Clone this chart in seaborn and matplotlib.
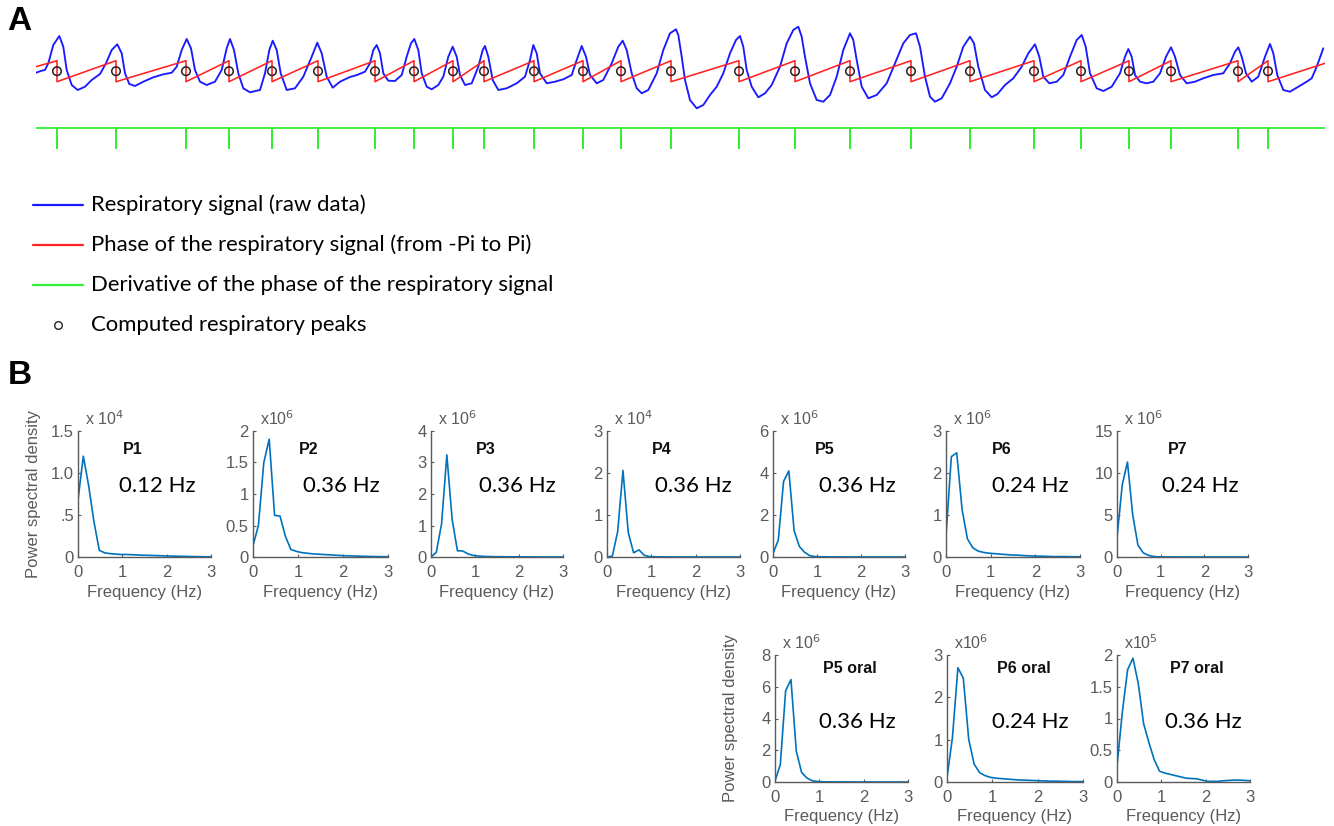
import numpy as np
import pandas as pd
import seaborn as sns
import matplotlib.pyplot as plt
from matplotlib.lines import Line2D

# ---------------- panel A : respiratory trace (arbitrary units) ----------------
resp_t = [36, 41.7, 45, 48.3, 53.3, 59.3, 63.3, 66.7, 71.7, 77.7, 85, 91.7, 100, 106, 111.7,
          117.3, 121.7, 125, 129.3, 135, 143.3, 153.3, 163.3, 171.7, 176.7, 181.7, 186.7, 191,
          195, 200, 206.7, 215, 221.7, 226.7, 230, 234, 238.3, 243.3, 250, 260, 265, 269.3,
          272.7, 276.7, 280.7, 286.7, 295, 303.3, 311.7, 317.3, 321.7, 326.7, 332.7, 340, 350,
          357, 365, 370, 373.3, 376.7, 380, 383.3, 388.3, 395, 401.7, 406.7, 411, 414.3, 418.3,
          421.7, 426.7, 431.7, 438.3, 443.3, 448.3, 452.7, 456.7, 460, 465, 471.7, 478.3, 482.7,
          485, 488.3, 492.7, 498.3, 506.7, 516.7, 525, 530, 533.3, 536.7, 540, 546.7, 555,
          563.3, 571.7, 576.7, 581.7, 586, 590, 596.7, 603.3, 611.7, 618.3, 622.7, 626.7, 631.7,
          636.7, 641.7, 648.3, 656.7, 663.3, 670, 676, 678.3, 681.7, 685, 690, 696.7, 703.3, 710,
          716.7, 723.3, 730, 736, 740, 743.3, 746.7, 751.7, 758.3, 765, 771.7, 780, 786.7, 793.3,
          798.3, 801.7, 805, 810, 816.7, 823.3, 830, 836.7, 843.3, 850, 853.3, 856.7, 861.7,
          868.3, 876.7, 886.7, 895, 903.3, 910, 916, 920, 925, 930, 935, 941.7, 950, 956.7,
          963.3, 970, 974, 978.3, 985, 991.7, 997.5, 1005, 1013.3, 1021.7, 1028.3, 1035, 1039.3,
          1043.3, 1049.3, 1056.7, 1063.3, 1070, 1076.7, 1081.7, 1085.7, 1090, 1096.7, 1103.3,
          1111.7, 1120, 1125, 1128.3, 1131.7, 1135, 1140, 1146.7, 1153.3, 1160, 1166, 1171, 1175,
          1180, 1186.7, 1195, 1203.3, 1213.3, 1223.3, 1230, 1235, 1238.3, 1241.7, 1246, 1251.7,
          1258.3, 1265, 1270, 1273.3, 1277.3, 1283.3, 1290, 1298.3, 1306.7, 1311.7, 1316.7, 1323.3]
resp_amp = [-0.7, 1.3, 2, 8.7, 27, 36, 25.3, 2, -13, -18, -14.7, -8, -2, 8.7, 22,
            27.7, 18.7, -1.3, -12, -14, -9.7, -5.3, -2.3, -0.7, 5.3, 22, 33, 23.7,
            2, -9.7, -13, -9.7, 2, 23.7, 33, 22, -1.3, -16.3, -20.3, -18, -1.3, 22,
            31.3, 22, -1.3, -18, -16.3, -4.7, 15.3, 29.3, 18.7, -4.7, -15.7, -9.7, -5,
            -3, 0.3, 8.7, 22, 27, 18.7, -1.3, -8.7, -9, -3, 15.3, 28.7, 33, 22,
            -1.3, -14.7, -17.3, -13, -4.7, 15.3, 25.3, 15.3, -3, -13, -11.3, 5.3, 22,
            26, 15.3, -8, -18, -16.3, -11.3, -4.7, 12, 27, 18.7, -1.3, -11.3, -9.7,
            -7.3, -3, 12, 26, 15.3, -3, -11.3, -8, 8.7, 25.3, 31.3, 22, -1.3,
            -16.3, -21.3, -18, -1.3, 22, 38.7, 42.7, 37, 15.3, -8, -28, -36.3, -33, -23,
            -14.7, -1.3, 18.7, 32, 36, 25.3, 2, -14.7, -25.3, -21.3, -13, 5.3, 28.7, 42,
            45.3, 35.3, 15.3, -11.3, -28, -29.7, -23, -4.7, 22, 38.7, 32, 12, -14.7,
            -26.3, -23, -11.3, 8.7, 28.7, 37, 38.7, 25.3, -4.7, -24.7, -29.7, -26.3, -11.3, 5.3,
            25.3, 35.3, 28.7, 5.3, -18, -25.3, -22, -13, -6.3, 5.3, 18.7, 27.7, 15.3,
            -4.7, -11.3, -9.7, -3, 15.3, 32, 37, 25.3, -1.3, -16.3, -19,
            -14.7, -1.3, 15.3, 23, 15.3, -3, -9.7, -11.3, -9.7, -1.3, 15.3, 24.7, 15.3,
            -3, -11.3, -9.7, -6.3, -3, -1.3, 8.7, 20.3, 24.7, 15.3, -1.3, -9.7,
            -4.7, 15.3, 28, 18.7, -3, -18, -19.7, -14.7, -9.7, -6.3, 5.3, 23.7]

peak_t = [57, 116, 186, 229, 272, 318, 375, 414, 453, 484, 534, 583, 621, 671, 739, 795,
          850, 911, 970, 1034, 1081, 1129, 1171, 1238, 1268]
t_start, t_end = 36, 1325
phase_start, phase_end = 1.35, 2.36   # phase (rad) at both ends of the trace

legend_labels = ["Respiratory signal (raw data)",
                 "Phase of the respiratory signal (from -Pi to Pi)",
                 "Derivative of the phase of the respiratory signal",
                 "Computed respiratory peaks"]

# ---------------- panel B : power spectra ----------------
freq = [0, 0.12, 0.24, 0.36, 0.48, 0.60, 0.72, 0.84, 0.96, 1.08, 1.20, 1.32, 1.44, 1.56,
        1.68, 1.80, 1.92, 2.04, 2.16, 2.28, 2.40, 2.52, 2.64, 2.76, 2.88, 3.0]
psd_p1 = [0.68, 1.20, 0.85, 0.42, 0.08, 0.05, 0.04, 0.035, 0.03, 0.03, 0.028, 0.025, 0.022,
          0.02, 0.018, 0.016, 0.014, 0.012, 0.01, 0.009, 0.008, 0.006, 0.005, 0.004, 0.003, 0.002]
psd_p2 = [0.18, 0.50, 1.50, 1.87, 0.66, 0.65, 0.33, 0.12, 0.09, 0.07, 0.06, 0.05, 0.045,
          0.04, 0.035, 0.03, 0.025, 0.02, 0.018, 0.015, 0.012, 0.01, 0.008, 0.006, 0.005, 0.004]
psd_p3 = [0.0, 0.15, 1.05, 3.24, 1.2, 0.2, 0.19, 0.1, 0.05, 0.03, 0.02, 0.015, 0.01, 0.01,
          0.008, 0.006, 0.005, 0.004, 0.003, 0.002, 0.002, 0.001, 0.001, 0.001, 0.001, 0.0]
psd_p4 = [0.0, 0.02, 0.6, 2.06, 0.58, 0.1, 0.17, 0.04, 0.01, 0.005, 0.003, 0.002, 0.002,
          0.001, 0.001, 0.001, 0.001, 0, 0, 0, 0, 0, 0, 0, 0, 0]
psd_p5 = [0.17, 0.8, 3.6, 4.1, 1.25, 0.5, 0.22, 0.06, 0.02, 0.01, 0.01, 0.005, 0.005, 0.004,
          0.003, 0.002, 0.002, 0.001, 0.001, 0.001, 0.001, 0, 0, 0, 0, 0]
psd_p6 = [0.5, 2.39, 2.48, 1.13, 0.43, 0.22, 0.14, 0.11, 0.09, 0.08, 0.07, 0.06, 0.05, 0.045,
          0.04, 0.03, 0.025, 0.02, 0.02, 0.015, 0.01, 0.01, 0.01, 0.008, 0.006, 0.005]
psd_p7 = [2.3, 8.6, 11.3, 5.0, 1.4, 0.5, 0.2, 0.06, 0.02, 0.01, 0.01, 0.005, 0.005, 0.004,
          0.003, 0.002, 0.002, 0.001, 0.001, 0.001, 0, 0, 0, 0, 0, 0]
psd_p5o = [0.06, 1.1, 5.75, 6.45, 1.95, 0.6, 0.25, 0.08, 0.03, 0.01, 0.01, 0.005, 0.005,
           0.004, 0.003, 0.002, 0.002, 0.001, 0.001, 0.001, 0, 0, 0, 0, 0, 0]
psd_p6o = [0.1, 1.05, 2.7, 2.45, 1.0, 0.42, 0.22, 0.15, 0.11, 0.09, 0.08, 0.07, 0.06, 0.05,
           0.045, 0.04, 0.035, 0.03, 0.025, 0.02, 0.02, 0.015, 0.015, 0.01, 0.01, 0.01]
psd_p7o = [0.25, 1.1, 1.77, 1.95, 1.55, 0.92, 0.62, 0.35, 0.17, 0.14, 0.12, 0.1, 0.08, 0.06,
           0.055, 0.05, 0.03, 0.01, 0.01, 0.01, 0.02, 0.025, 0.03, 0.03, 0.025, 0.02]

names = ["P1", "P2", "P3", "P4", "P5", "P6", "P7", "P5 oral", "P6 oral", "P7 oral"]
peak_hz = ["0.12 Hz", "0.36 Hz", "0.36 Hz", "0.36 Hz", "0.36 Hz", "0.24 Hz", "0.24 Hz",
           "0.36 Hz", "0.24 Hz", "0.36 Hz"]
spectra = [psd_p1, psd_p2, psd_p3, psd_p4, psd_p5, psd_p6, psd_p7, psd_p5o, psd_p6o, psd_p7o]
exponents = ["x 10$^{4}$", "x10$^{6}$", "x 10$^{6}$", "x 10$^{4}$", "x 10$^{6}$", "x 10$^{6}$",
             "x 10$^{6}$", "x 10$^{6}$", "x10$^{6}$", "x10$^{5}$"]
yticks = [[0, 0.5, 1.0, 1.5], [0, 0.5, 1, 1.5, 2], [0, 1, 2, 3, 4], [0, 1, 2, 3], [0, 2, 4, 6],
          [0, 1, 2, 3], [0, 5, 10, 15], [0, 2, 4, 6, 8], [0, 1, 2, 3], [0, 0.5, 1, 1.5, 2]]
ytick_labels = [["0", ".5", "1.0", "1.5"], ["0", "0.5", "1", "1.5", "2"], ["0", "1", "2", "3", "4"],
                ["0", "1", "2", "3"], ["0", "2", "4", "6"], ["0", "1", "2", "3"],
                ["0", "5", "10", "15"], ["0", "2", "4", "6", "8"], ["0", "1", "2", "3"],
                ["0", "0.5", "1", "1.5", "2"]]

# ---------------- layout (pixels) ----------------
W, H = 1334, 826
row_y = [(431, 557)] * 7 + [(655, 782)] * 3
col_x = [(78, 211), (253, 388), (431, 563), (607, 740), (773, 905), (946, 1080), (1117, 1248),
         (775, 908), (947, 1083), (1117, 1250)]
title_x = [0.34, 0.34, 0.34, 0.34, 0.32, 0.34, 0.39, 0.36, 0.37, 0.40]
hz_x = [0.31, 0.37, 0.36, 0.36, 0.35, 0.34, 0.34, 0.33, 0.33, 0.36]


def px_rect(x0, y0, x1, y1):
    return [x0 / W, 1 - y1 / H, (x1 - x0) / W, (y1 - y0) / H]


sns.set_theme(style="ticks")
plt.rcParams["font.family"] = ["Liberation Sans", "DejaVu Sans"]
gray = "#5a5a5a"

fig = plt.figure(figsize=(W / 100, H / 100), dpi=100)

# ---- panel A ----
axA = fig.add_axes(px_rect(36, 20, 1325, 155))
resp = pd.DataFrame({"t": resp_t, "amp": resp_amp})
sns.lineplot(data=resp, x="t", y="amp", ax=axA, color="#1a1aff", lw=1.35,
             estimator=None, sort=False, solid_joinstyle="round")

ph_t, ph_v = [t_start], [phase_start]
for t in peak_t:
    ph_t += [t, t]
    ph_v += [np.pi, -np.pi]
ph_t.append(t_end)
ph_v.append(phase_end)
phase = pd.DataFrame({"t": ph_t, "y": 0.8 + np.array(ph_v) * 10.5 / np.pi})
sns.lineplot(data=phase, x="t", y="y", ax=axA, color="#ff2222", lw=1.15,
             estimator=None, sort=False)

d_t, d_v = [t_start], [0.0]
for t in peak_t:
    d_t += [t, t, t]
    d_v += [0.0, -2 * np.pi, 0.0]
d_t.append(t_end)
d_v.append(0.0)
deriv = pd.DataFrame({"t": d_t, "y": -55.7 + np.array(d_v) * 20.3 / (2 * np.pi)})
sns.lineplot(data=deriv, x="t", y="y", ax=axA, color="#33ee33", lw=1.3,
             estimator=None, sort=False)

peaks = pd.DataFrame({"t": peak_t, "y": [0.8] * len(peak_t)})
sns.scatterplot(data=peaks, x="t", y="y", ax=axA, marker="o", s=38,
                facecolor="none", edgecolor="#222222", linewidth=1.1, zorder=5)
axA.set_xlim(t_start, t_end)
axA.set_ylim(72 - 155, 72 - 20)
axA.axis("off")

# legend of panel A
leg_colors = ["#1a1aff", "#ff2222", "#33ee33", None]
for i, (lab, c) in enumerate(zip(legend_labels, leg_colors)):
    yy = 1 - (205 + 40 * i) / H
    if c is not None:
        fig.add_artist(Line2D([33 / W, 83 / W], [yy, yy], color=c, lw=1.6,
                              transform=fig.transFigure))
    else:
        fig.add_artist(Line2D([58 / W], [yy], marker="o", markersize=5.5,
                              markerfacecolor="none", markeredgecolor="#222222",
                              markeredgewidth=1.0, transform=fig.transFigure))
    fig.text(91 / W, yy, lab, family=["Lato", "DejaVu Sans"], fontsize=15.9,
             va="center", ha="left", color="#000000")

fig.text(7 / W, 1 - 6 / H, "A", fontsize=24, fontweight="bold", va="top", ha="left",
         color="black")
fig.text(8 / W, 1 - 360 / H, "B", fontsize=24, fontweight="bold", va="top", ha="left",
         color="black")

# ---- panel B ----
for i in range(len(names)):
    (x0, x1), (y0, y1) = col_x[i], row_y[i]
    ax = fig.add_axes(px_rect(x0, y0, x1, y1))
    df = pd.DataFrame({"f": freq, "p": spectra[i]})
    sns.lineplot(data=df, x="f", y="p", ax=ax, color="#0072BD", lw=1.2,
                 estimator=None, sort=False)
    ax.set_xlim(0, 3)
    ax.set_ylim(0, yticks[i][-1])
    ax.set_xticks([0, 1, 2, 3])
    ax.set_yticks(yticks[i])
    ax.set_yticklabels(ytick_labels[i])
    sns.despine(ax=ax)
    for sp in ["left", "bottom"]:
        ax.spines[sp].set_color(gray)
        ax.spines[sp].set_linewidth(1.0)
    ax.tick_params(direction="in", length=2.5, width=0.8, colors=gray,
                   labelsize=12, pad=3)
    ax.tick_params(axis="x", pad=6)
    ax.set_xlabel("Frequency (Hz)", fontsize=12, color=gray, labelpad=3)
    if i in (0, 7):
        ax.set_ylabel("Power spectral density", fontsize=12, color=gray)
        ax.yaxis.set_label_coords(-0.28, 0.5)
    else:
        ax.set_ylabel("")
    ax.text(0.05, 1.02, exponents[i], transform=ax.transAxes, fontsize=11.5,
            color=gray, va="bottom", ha="left")
    ty, hy = (0.85, 0.56) if i < 7 else (0.89, 0.47)
    ax.text(title_x[i], ty, names[i], transform=ax.transAxes, fontsize=11.5,
            fontweight="bold", va="center", ha="left", color="#111111")
    ax.text(hz_x[i], hy, peak_hz[i], transform=ax.transAxes, fontsize=16,
            family=["Lato", "DejaVu Sans"], va="center", ha="left", color="#000000")

fig.savefig("out.png", dpi=100, facecolor="white")
